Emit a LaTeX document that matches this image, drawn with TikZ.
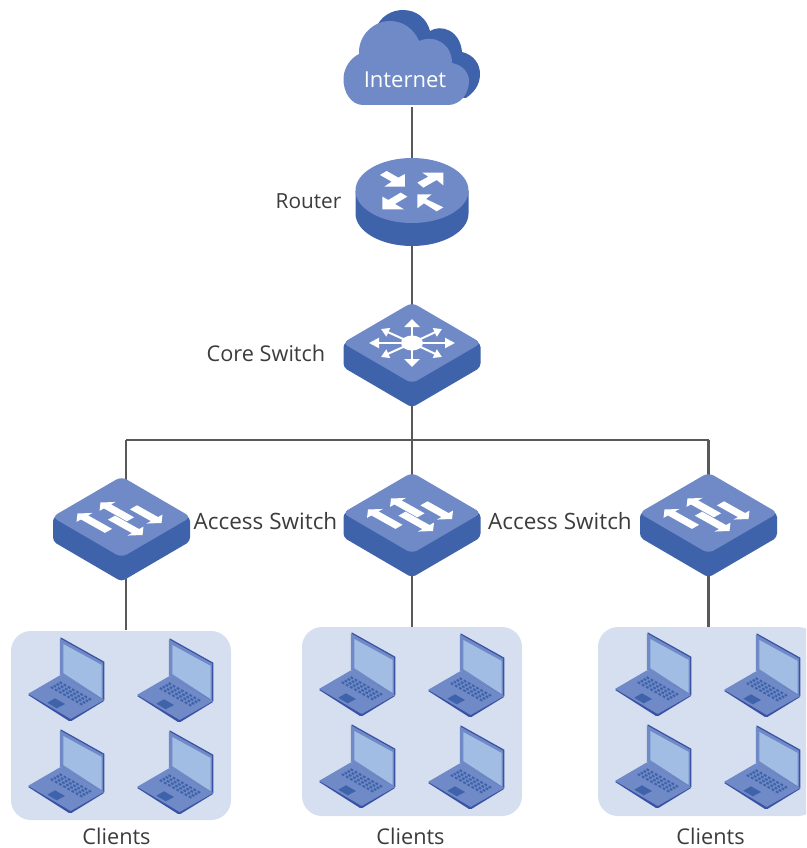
\documentclass[tikz,border=0pt]{standalone}
\usepackage{fontspec}
\setmainfont{Open Sans}
\usetikzlibrary{arrows.meta,calc}
\definecolor{lightblue}{HTML}{6F8AC6}
\definecolor{darkblue}{HTML}{3F63AB}
\definecolor{panelblue}{HTML}{D5DFF0}
\definecolor{screenblue}{HTML}{A2BDE3}
\definecolor{edgeblue}{HTML}{3A52A4}
\definecolor{wire}{HTML}{595959}
\definecolor{labeltext}{HTML}{3C3C3C}
\tikzset{
  wireline/.style={draw=wire,line width=2.6pt},
  lbl/.style={font=\fontsize{21.7}{24}\selectfont,text=labeltext,inner sep=0pt},
  panelbox/.style={fill=panelblue,rounded corners=20pt,minimum width=220pt,minimum height=189pt,inner sep=0pt},
  stararm/.style={draw=white,line width=2pt}
}
\newcommand{\switchbody}[1]{%
  \fill[darkblue,rounded corners=4pt] ($(#1)+(-68.5,0)$) -- ($(#1)+(-68.5,24.5)$) -- ($(#1)+(0,64.5)$) -- ($(#1)+(68.5,24.5)$) -- ($(#1)+(68.5,0)$) -- ($(#1)+(0,-20)$) -- cycle;
  \fill[lightblue,rounded corners=6pt] ($(#1)+(-69.5,0)$) -- ($(#1)+(0,-40.5)$) -- ($(#1)+(69.5,0)$) -- ($(#1)+(0,40.5)$) -- cycle;
}
\newcommand{\isoarrow}[4]{%
  \begin{scope}[shift={(#1,#2)},x={(#4*1pt,-#4*0.56pt)},y={(#4*1pt,#4*0.56pt)}]
    \fill[white] (0,0) -- (7,-8) -- (7,-3.6) -- (#3,-3.6) -- (#3,3.6) -- (7,3.6) -- (7,8) -- cycle;
  \end{scope}}
\newcommand{\accessarrows}[1]{%
  \begin{scope}[shift={(#1)}]
    \isoarrow{-44}{-3.5}{31}{1}
    \isoarrow{-21}{-14.5}{30}{1}
    \isoarrow{40}{6}{28}{-1}
    \isoarrow{21}{18}{31}{-1}
  \end{scope}}
\newcommand{\laptop}[2]{%
  \begin{scope}[shift={(#1,#2)}]
    \fill[edgeblue,line join=round] (-32.5,57.7) -- (-0.7,39) -- (43.6,63.5) -- (11,83.5) -- (8,83.5) -- cycle;
    \fill[lightblue,line join=round] (-32.5,56.5) -- (-0.7,38) -- (43.6,62.5) -- (10,81.7) -- cycle;
    \foreach \i in {0,1,2,3}{\foreach \j in {0,...,7}{
      \draw[darkblue,line width=2pt] ({-0.7+4.16*(\j+.25)-2.92*(\i+.5)},{43.4+2.33*(\j+.25)+1.65*(\i+.5)}) -- ++(2.4,1.34);
    }}
    \fill[darkblue] (-13.4,65.4) -- (-5.7,61) -- (4.3,66.7) -- (-4,71) -- cycle;
    \fill[edgeblue,line join=round] (0,0) -- (43.6,24.4) -- (43.6,62.7) -- (0.6,38.5) -- cycle;
    \fill[lightblue] (-0.9,1) -- (42.2,25.2) -- (42.2,62) -- (-0.9,37.7) -- cycle;
    \fill[screenblue] (2.6,6.7) -- (41,27.7) -- (41,60.7) -- (2.6,35.7) -- cycle;
  \end{scope}}
\begin{document}
\begin{tikzpicture}[x=1pt,y=-1pt]
\clip (0,0) rectangle (806,848);
\coordinate (internet) at (412,107);
\coordinate (router) at (412,190);
\coordinate (core) at (412,343);
\coordinate (bus) at (412,440);
\coordinate (busL) at (126,440);
\coordinate (busR) at (708.5,440);
\coordinate (acc1) at (121.5,517);
\coordinate (acc2) at (412,513);
\coordinate (acc3) at (708.5,513);
\coordinate (acc1up) at (126,510);
\coordinate (acc1dn) at (126,560);
\node[panelbox] (panel1) at (121,725.5) {};
\node[panelbox] (panel2) at (412,721.5) {};
\node[panelbox] (panel3) at (708,721.5) {};
\coordinate (drop1) at (126,630);
\coordinate (drop2) at (412,627);
\coordinate (drop3) at (708.5,627);
\draw[wireline] (internet) -- (router);
\draw[wireline] (router) -- (core);
\draw[wireline] (core) -- (bus);
\draw[wireline] (busL) -- (busR);
\draw[wireline] (busL) -- (acc1up);
\draw[wireline] (bus) -- (acc2);
\draw[wireline] (busR) -- (acc3);
\draw[wireline] (acc1dn) -- (drop1);
\draw[wireline] (acc2) -- (drop2);
\draw[wireline] (acc3) -- (drop3);
% cloud
\fill[darkblue] (375,30) .. controls (380,16) and (392,10) .. (403,10)
  .. controls (417,10) and (427,19) .. (430,31)
  .. controls (441,24) and (460,30) .. (462,52)
  .. controls (474,55) and (480,64) .. (480,74)
  .. controls (480,86) and (473,93) .. (466,98) -- (420,98) -- cycle;
\fill[lightblue] (363,105) .. controls (351,105) and (343,92) .. (343.5,78)
  .. controls (344,67) and (351,58) .. (359,54)
  .. controls (358,36) and (373,21) .. (390,21)
  .. controls (403,21) and (414,29) .. (419,41)
  .. controls (436,34) and (452,45) .. (452,63)
  .. controls (463,65) and (469,73) .. (469,81)
  .. controls (469,94) and (460,105) .. (448,105) -- cycle;
\node[lbl,text=white,font=\fontsize{22}{24}\selectfont] (internetlabel) at (405,80) {Internet};
% router
\fill[darkblue] (355.5,190.5) -- (355.5,213.5) arc[x radius=56.5,y radius=32.5,start angle=180,end angle=0] -- (468.5,190.5) -- cycle;
\fill[lightblue] (412,190.5) ellipse[x radius=56.5,y radius=32.5];
\begin{scope}[shift={(330,0)},x=0.3333pt,y=-0.3333pt]
\fill[white] (150,525) -- (170,513) -- (205,533) -- (225,522) -- (225,560) -- (163,560) -- (185,545) -- cycle;
\fill[white] (340,518) -- (277,518) -- (295,530) -- (262,548) -- (280,563) -- (320,540) -- (340,556) -- cycle;
\fill[white] (157,628) -- (157,590) -- (175,600) -- (212,578) -- (232,590) -- (195,612) -- (222,628) -- cycle;
\fill[white] (262,583) -- (305,583) -- (288,597) -- (340,622) -- (320,634) -- (282,610) -- (262,625) -- cycle;
\end{scope}
% core switch
\switchbody{core}
\begin{scope}[shift={(core)}]
\fill[white] (0,0) ellipse[x radius=11,y radius=7.5];
\foreach \tx/\ty in {30/-14,-31/-14,30/14,-31/14}{
  \draw[stararm,-{Triangle[length=8pt,width=9pt]}] (0,0) -- (\tx,\ty);}
\draw[stararm,-{Triangle[length=8pt,width=15pt]}] (0,0) -- (0,-24);
\draw[stararm,-{Triangle[length=8pt,width=15pt]}] (0,0) -- (0,24);
\draw[stararm,-{Triangle[length=10pt,width=10pt]}] (0,0) -- (-43,0);
\draw[stararm,-{Triangle[length=10pt,width=10pt]}] (0,0) -- (43,0);
\end{scope}
\switchbody{acc1}\accessarrows{acc1}
\switchbody{acc2}\accessarrows{acc2}
\switchbody{acc3}\accessarrows{acc3}
\foreach \dx/\dy in {0/0,291/-5,587/-5}{
  \laptop{60.7+\dx}{637.3+\dy}
  \laptop{169.7+\dx}{638.3+\dy}
  \laptop{60.7+\dx}{729.3+\dy}
  \laptop{169.7+\dx}{730.3+\dy}
}
\node[lbl,font=\fontsize{20.8}{24}\selectfont] (routerlabel) at (308.5,201) {Router};
\node[lbl] (corelabel) at (266,353) {Core Switch};
\node[lbl,font=\fontsize{22.5}{24}\selectfont] (acclabelA) at (265.5,521) {Access Switch};
\node[lbl,font=\fontsize{22.5}{24}\selectfont] (acclabelB) at (560,521) {Access Switch};
\node[lbl] (clientsA) at (116.5,836) {Clients};
\node[lbl] (clientsB) at (410.5,836) {Clients};
\node[lbl] (clientsC) at (710.5,836) {Clients};
\end{tikzpicture}
\end{document}
